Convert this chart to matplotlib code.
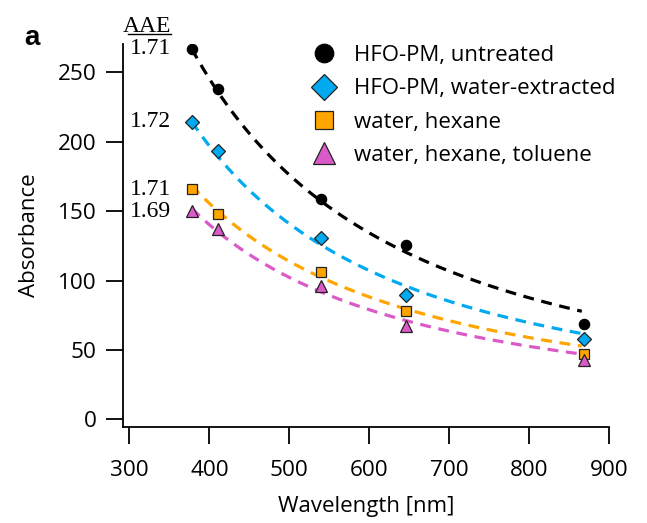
import numpy as np
import matplotlib
matplotlib.use('Agg')
import matplotlib.pyplot as plt
from matplotlib.lines import Line2D

# data
wavelength = [378, 411, 540, 646, 869]
untreated = [267, 238, 159, 126, 68.6]
water_extracted = [214.5, 193.7, 130.5, 89.5, 57.8]
water_hexane = [165.8, 147.8, 106.5, 78.2, 47.2]
water_hexane_toluene = [150, 137, 96.2, 67.4, 42.9]

labels = ['HFO-PM, untreated', 'HFO-PM, water-extracted',
          'water, hexane', 'water, hexane, toluene']
aae_labels = ['1.71', '1.72', '1.71', '1.69']

# power-law fit lines: value at 378 nm and exponent
fit_amp = [267, 214.5, 168.5, 152]
fit_exp = [1.486, 1.50, 1.40, 1.415]

colors = ['black', '#00A9F0', '#FFA500', '#DA5AC8']
markers = ['o', 'D', 's', '^']
msizes = [7.4, 7.4, 7.2, 8.6]

plt.rcParams['font.family'] = ['Open Sans', 'DejaVu Sans']

fig = plt.figure(figsize=(6.47, 5.23), dpi=100)
ax = fig.add_axes([122.7/647, 1 - 427.3/523, (609 - 122.7)/647, (427.3 - 44)/523])

series = [untreated, water_extracted, water_hexane, water_hexane_toluene]
lam = np.linspace(wavelength[0], wavelength[-1] - 3, 200)
for i, ys in enumerate(series):
    fit = fit_amp[i] * (lam / wavelength[0]) ** (-fit_exp[i])
    ax.plot(lam, fit, color=colors[i], lw=2.3, dashes=(3.4, 2.4), zorder=2)
for i, ys in enumerate(series):
    ec = 'black' if i == 0 else '#222222'
    ax.plot(wavelength, ys, ls='none', marker=markers[i], ms=msizes[i],
            mfc=colors[i], mec=ec, mew=0.9, label=labels[i], zorder=3)
    ax.text(352, ys[0], aae_labels[i], ha='right', va='center',
            fontsize=17, family='Liberation Serif')

ax.text(352, 279.5, 'AAE', ha='right', va='baseline', fontsize=17,
        family='Liberation Serif')
fig.add_artist(Line2D([128/647, 171/647], [1 - 33.5/523] * 2, color='black', lw=1))

ax.set_xlim(291.6, 900)
ax.set_ylim(-5.7, 270.5)
ax.set_xticks([300, 400, 500, 600, 700, 800, 900])
ax.set_yticks([0, 50, 100, 150, 200, 250])
ax.spines['top'].set_visible(False)
ax.spines['right'].set_visible(False)
ax.spines['left'].set_linewidth(1.3)
ax.spines['bottom'].set_linewidth(1.3)
ax.tick_params(direction='out', length=12.5, width=1.3, labelsize=16.2, pad=6.5)
ax.tick_params(axis='x', pad=11)
ax.set_xlabel('Wavelength [nm]', fontsize=16, labelpad=11)
ax.set_ylabel('Absorbance', fontsize=16, labelpad=13)

ax.legend(loc='upper left', bbox_to_anchor=(302/647, 1 - 36/523),
          bbox_transform=fig.transFigure, frameon=False, fontsize=16,
          markerscale=1.8, handletextpad=0.75, labelspacing=0.56,
          handlelength=1.2, borderaxespad=0)

fig.text(24/647, 1 - 38/523, 'a', fontsize=20, fontweight='bold',
         family='Liberation Sans', va='center', ha='left')

fig.savefig('out.png', dpi=100)
